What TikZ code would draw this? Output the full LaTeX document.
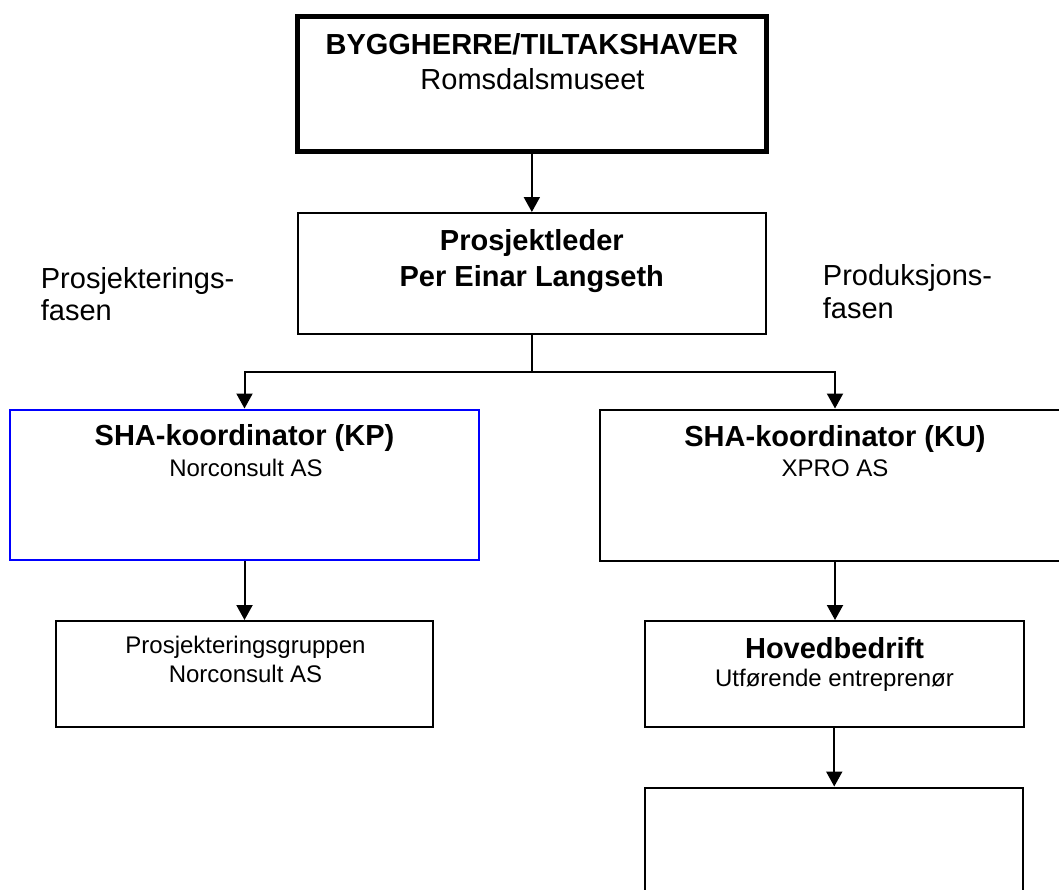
\documentclass[tikz,border=0pt]{standalone}
\usepackage{fontspec}
\setmainfont{Liberation Sans}
\usetikzlibrary{arrows.meta}
\begin{document}
\begin{tikzpicture}[x=1pt,y=-1pt,
  box/.style={draw=black, line width=2pt, rectangle, inner sep=0pt},
  thickbox/.style={draw=black, line width=5pt, rectangle, inner sep=0pt},
  bluebox/.style={draw=blue, line width=2pt, rectangle, inner sep=0pt},
  arr/.style={line width=2pt, -{Triangle[width=16pt,length=15pt]}},
  big/.style={font=\fontsize{29}{35}\selectfont, anchor=base, inner sep=0pt},
  bigb/.style={font=\fontsize{29}{35}\selectfont\bfseries, anchor=base, inner sep=0pt},
  small/.style={font=\fontsize{24}{28}\selectfont, anchor=base, inner sep=0pt},
  lbl/.style={font=\fontsize{29}{35}\selectfont, anchor=base west, inner sep=0pt}
]
\useasboundingbox (0,0) rectangle (1059,889);
\clip (0,0) rectangle (1059,889);
\fill[white] (0,0) rectangle (1059,889);

% boxes
\node[thickbox, minimum width=469.3pt, minimum height=135pt] (top) at (531.85,84) {};
\node[box, minimum width=468.5pt, minimum height=121pt] (pl) at (531.75,273.5) {};
\node[bluebox, minimum width=469pt, minimum height=150.5pt] (kp) at (244.5,484.75) {};
\node[box, minimum width=471pt, minimum height=151pt] (ku) at (835,485) {};
\node[box, minimum width=377pt, minimum height=105.5pt] (pg) at (244.5,673.75) {};
\node[box, minimum width=378.5pt, minimum height=105.5pt] (hb) at (834.25,673.75) {};
\node[box, minimum width=378pt, minimum height=112.5pt] (ue) at (834.3,843.75) {};

% texts
\node[bigb] (t1) at (531.8,54) {BYGGHERRE/TILTAKSHAVER};
\node[big] (t2) at (532.5,89.3) {Romsdalsmuseet};
\node[bigb] (p1) at (531.8,250) {Prosjektleder};
\node[bigb] (p2) at (531.8,286) {Per Einar Langseth};
\node[lbl] (l1) at (40.7,288.3) {Prosjekterings-};
\node[lbl] (l2) at (40.7,320.7) {fasen};
\node[lbl] (r1) at (822.7,285) {Produksjons-};
\node[lbl] (r2) at (822.7,318.3) {fasen};
\node[bigb] (k1) at (244.5,445.7) {SHA-koordinator (KP)};
\node[small] (k2) at (246,476) {Norconsult AS};
\node[bigb] (u1) at (835,446.7) {SHA-koordinator (KU)};
\node[small] (u2) at (835,476.7) {XPRO AS};
\node[small] (g1) at (245.5,653) {Prosjekteringsgruppen};
\node[small] (g2) at (245.5,682.7) {Norconsult AS};
\node[bigb] (h1) at (834.5,658.3) {Hovedbedrift};
\node[small] (h2) at (834.5,686.7) {Utførende entreprenør};

% connectors
\coordinate (j) at (531.75,372);
\draw[arr] (top.south) -- (top.south |- pl.north);
\draw[line width=2pt] (pl.south) -- (j);
\draw[arr] (j) -| (kp.north);
\draw[arr] (j) -| (ku.north);
\draw[arr] (kp.south) -- (pg.north);
\draw[arr] (ku.south) -- (ku.south |- hb.north);
\draw[arr] (hb.south) -- (hb.south |- ue.north);
\end{tikzpicture}
\end{document}
